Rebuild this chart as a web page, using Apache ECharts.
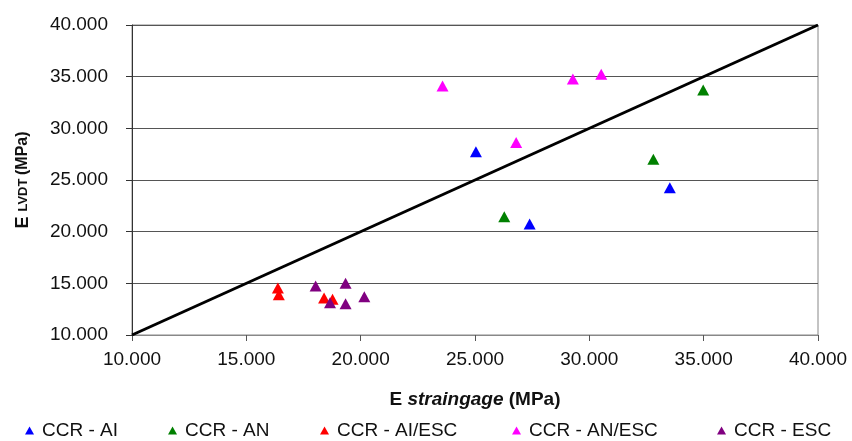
<!DOCTYPE html>
<html>
<head>
<meta charset="utf-8">
<script src="https://cdn.jsdelivr.net/npm/echarts@6/dist/echarts.min.js"></script>
<style>
  html, body { margin: 0; padding: 0; background: #fff; }
  #chart { width: 852px; height: 441px; }
</style>
</head>
<body>
<div id="chart"></div>
<script>
const seriesNames = ['CCR - AI', 'CCR - AN', 'CCR - AI/ESC', 'CCR - AN/ESC', 'CCR - ESC']
const seriesColors = ['#0000ff', '#008000', '#ff0000', '#ff00ff', '#800080']

// [E straingage, E LVDT] in MPa (thousands)
const ccrAI = [[25.04, 27.74], [27.39, 20.74], [33.52, 24.25]]
const ccrAN = [[26.28, 21.45], [32.8, 27.0], [34.98, 33.7]]
const ccrAIESC = [[16.38, 14.54], [16.42, 13.9], [18.4, 13.57], [18.77, 13.47]]
const ccrANESC = [[23.58, 34.1], [26.8, 28.64], [29.28, 34.77], [30.52, 35.23]]
const ccrESC = [[18.03, 14.73], [19.34, 15.0], [18.66, 13.12], [19.34, 13.02], [20.16, 13.7]]
const equalityLine = [[10, 10], [40, 40]]

const allData = [ccrAI, ccrAN, ccrAIESC, ccrANESC, ccrESC]
const legendLeft = [25, 168, 320, 512, 717]

const font = "'Liberation Sans', Arial, sans-serif"
const fmt = (v) => v.toFixed(3)

const chart = echarts.init(document.getElementById('chart'), null, { renderer: 'canvas' })

const scatterSeries = seriesNames.map((name, i) => ({
  name,
  type: 'scatter',
  data: allData[i],
  symbol: 'triangle',
  symbolSize: [12, 11],
  itemStyle: { color: seriesColors[i], opacity: 1 },
  z: 3,
}))

chart.setOption({
  animation: false,
  backgroundColor: '#fff',
  textStyle: { fontFamily: font },
  grid: {
    left: 132,
    right: 34,
    top: 25,
    bottom: 106,
    show: true,
    borderColor: '#888',
    borderWidth: 1,
    outerBoundsMode: 'none',
  },
  legend: seriesNames.map((name, i) => ({
    data: [{ name, icon: 'triangle', itemStyle: { color: seriesColors[i], opacity: 1 } }],
    left: legendLeft[i],
    top: 421,
    itemWidth: 9,
    itemHeight: 8,
    padding: 0,
    textStyle: { fontFamily: font, fontSize: 19, color: '#111', padding: [0, 0, 0, 3] },
  })),
  xAxis: {
    type: 'value',
    min: 10,
    max: 40,
    interval: 5,
    name: '{b|E }{bi|straingage}{b| (MPa)}',
    nameLocation: 'middle',
    nameGap: 55,
    nameTextStyle: {
      rich: {
        b: { fontFamily: font, fontSize: 19, fontWeight: 'bold', color: '#111' },
        bi: { fontFamily: font, fontSize: 19, fontWeight: 'bold', fontStyle: 'italic', color: '#111' },
      },
    },
    axisLine: { lineStyle: { color: '#888', width: 1 } },
    axisTick: { show: true, length: 6, lineStyle: { color: '#555' } },
    axisLabel: { formatter: fmt, fontFamily: font, fontSize: 19, color: '#111', margin: 15 },
    splitLine: { show: false },
  },
  yAxis: {
    type: 'value',
    min: 10,
    max: 40,
    interval: 5,
    name: '{e|E }{s|LVDT }{m|(MPa)}',
    nameLocation: 'middle',
    nameGap: 100,
    nameRotate: 90,
    nameTextStyle: {
      rich: {
        e: { fontFamily: font, fontSize: 18, fontWeight: 'bold', color: '#111' },
        s: { fontFamily: font, fontSize: 13, fontWeight: 'bold', color: '#111' },
        m: { fontFamily: font, fontSize: 16, fontWeight: 'bold', color: '#111' },
      },
    },
    axisLine: { lineStyle: { color: '#333', width: 1 } },
    axisTick: { show: true, length: 6, lineStyle: { color: '#333' } },
    axisLabel: { formatter: fmt, fontFamily: font, fontSize: 19, color: '#111', margin: 24 },
    splitLine: { show: true, lineStyle: { color: '#555', width: 1 } },
  },
  series: [
    {
      name: 'equality',
      type: 'line',
      data: equalityLine,
      showSymbol: false,
      symbol: 'none',
      lineStyle: { color: '#000', width: 3 },
      z: 2,
    },
    ...scatterSeries,
  ],
})
</script>
</body>
</html>
